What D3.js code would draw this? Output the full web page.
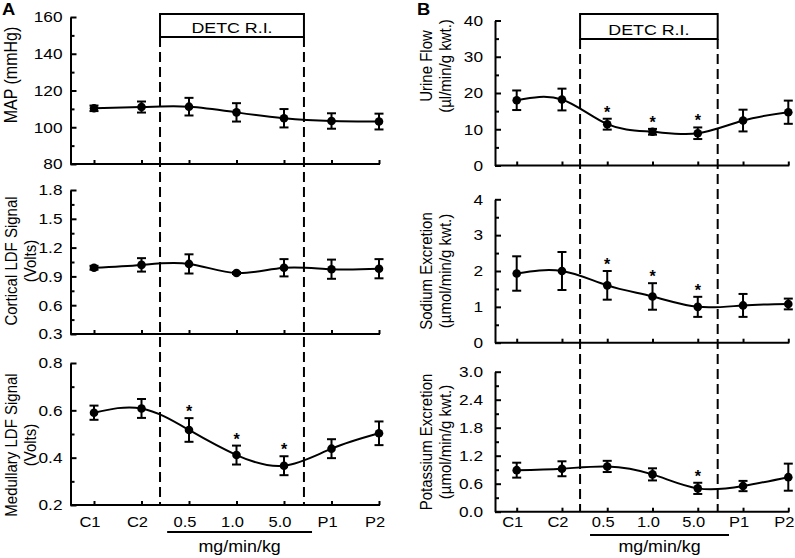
<!DOCTYPE html>
<html><head><meta charset="utf-8">
<script src="https://cdn.jsdelivr.net/npm/d3@7"></script>
<style>
body{margin:0;background:#fff}
svg{display:block}
text{font-family:"Liberation Sans",Arial,Helvetica,sans-serif;fill:#000}
</style>
</head><body>
<svg id="c" width="795" height="558"></svg>
<script>
// ---------- data ----------
const categories = ["C1", "C2", "0.5", "1.0", "5.0", "P1", "P2"];

const mapMean       = [110.3, 111.0, 111.2, 108.1, 104.9, 103.4, 103.1];
const mapErr        = [1.5, 3.0, 4.8, 5.0, 5.0, 4.2, 4.3];
const corticalMean  = [0.99, 1.02, 1.03, 0.935, 0.99, 0.975, 0.98];
const corticalErr   = [0.02, 0.07, 0.10, 0.01, 0.09, 0.10, 0.10];
const medullaryMean = [0.59, 0.608, 0.517, 0.411, 0.366, 0.438, 0.503];
const medullaryErr  = [0.03, 0.04, 0.05, 0.04, 0.04, 0.04, 0.05];

const urineMean     = [18.0, 18.2, 11.4, 9.3, 8.9, 12.4, 14.7];
const urineErr      = [2.7, 3.0, 1.5, 0.8, 1.6, 3.0, 3.2];
const sodiumMean    = [1.93, 2.0, 1.6, 1.29, 1.0, 1.04, 1.08];
const sodiumErr     = [0.48, 0.53, 0.40, 0.37, 0.28, 0.32, 0.15];
const potassiumMean = [0.89, 0.92, 0.97, 0.80, 0.50, 0.55, 0.74];
const potassiumErr  = [0.16, 0.16, 0.12, 0.13, 0.12, 0.11, 0.29];

const noSig        = [0, 0, 0, 0, 0, 0, 0];
const medullarySig = [0, 0, 1, 1, 1, 0, 0];
const urineSig     = [0, 0, 1, 1, 1, 0, 0];
const sodiumSig    = [0, 0, 1, 1, 1, 0, 0];
const potassiumSig = [0, 0, 0, 0, 1, 0, 0];

const mapTicks = [80, 100, 120, 140, 160];
const mapMinor = [90, 110, 130, 150];
const corticalTicks = [0.3, 0.6, 0.9, 1.2, 1.5, 1.8];
const corticalMinor = [0.45, 0.75, 1.05, 1.35, 1.65];
const medullaryTicks = [0.2, 0.4, 0.6, 0.8];
const medullaryMinor = [0.3, 0.5, 0.7];
const urineTicks = [0, 10, 20, 30, 40];
const urineMinor = [5, 15, 25, 35];
const sodiumTicks = [0, 1, 2, 3, 4];
const sodiumMinor = [0.5, 1.5, 2.5, 3.5];
const potassiumTicks = [0.0, 0.6, 1.2, 1.8, 2.4, 3.0];
const potassiumMinor = [0.3, 0.9, 1.5, 2.1, 2.7];

const boxLabel = "DETC R.I.";
const doseUnit = "mg/min/kg";

// ---------- layout ----------
const SX = 1.15;
const svg = d3.select("#c");

function htext(x, y, str, fs, anchor, weight, sx) {
  return svg.append("text")
    .attr("transform", `translate(${x},${y}) scale(${sx || SX},1)`)
    .attr("text-anchor", anchor || "middle")
    .style("font-size", fs + "px")
    .style("font-weight", weight || "normal")
    .text(str);
}
function vtext(x, y, str, fs) {
  return svg.append("text")
    .attr("transform", `translate(${x},${y}) rotate(-90) scale(1,${SX})`)
    .attr("text-anchor", "middle")
    .style("font-size", fs + "px")
    .text(str);
}

const cols = [
  { letter: "A", letterX: 2, ax: 70.5, xr: [94, 379], pad: 8, titleX: [17, 36],
    dash: [1.39, 4.42], boxTop: 14, boxBot: 37, ul: [1.54, 4.59], ulY: 532,
    panels: [
      { yt: 17, yb: 164, dom: [80, 160], ticks: mapTicks, minor: mapMinor, fmt: d3.format("d"),
        mean: mapMean, err: mapErr, sig: noSig, title: ["MAP (mmHg)"], titleY: 75, tfs: 16 },
      { yt: 190, yb: 334, dom: [0.3, 1.8], ticks: corticalTicks, minor: corticalMinor, fmt: d3.format(".1f"),
        mean: corticalMean, err: corticalErr, sig: noSig, title: ["Cortical LDF Signal", "(Volts)"], titleY: 261, tfs: 15 },
      { yt: 363, yb: 505, dom: [0.2, 0.8], ticks: medullaryTicks, minor: medullaryMinor, fmt: d3.format(".1f"),
        mean: medullaryMean, err: medullaryErr, sig: medullarySig, title: ["Medullary LDF Signal", "(Volts)"], titleY: 445, tfs: 15 }
    ] },
  { letter: "B", letterX: 417, ax: 495, xr: [516.7, 788.3], pad: 12, titleX: [432, 451],
    dash: [1.4, 4.44], boxTop: 14, boxBot: 39, ul: [1.62, 4.69], ulY: 535,
    panels: [
      { yt: 20.5, yb: 165.5, dom: [0, 40], ticks: urineTicks, minor: urineMinor, fmt: d3.format("d"),
        mean: urineMean, err: urineErr, sig: urineSig, title: ["Urine Flow", "(µl/min/g kwt.)"], titleY: 66, tfs: 15 },
      { yt: 199.3, yb: 342.7, dom: [0, 4], ticks: sodiumTicks, minor: sodiumMinor, fmt: d3.format("d"),
        mean: sodiumMean, err: sodiumErr, sig: sodiumSig, title: ["Sodium Excretion", "(µmol/min/g kwt.)"], titleY: 271, tfs: 15 },
      { yt: 371.7, yb: 511.7, dom: [0, 3], ticks: potassiumTicks, minor: potassiumMinor, fmt: d3.format(".1f"),
        mean: potassiumMean, err: potassiumErr, sig: potassiumSig, title: ["Potassium Excretion", "(µmol/min/g kwt.)"], titleY: 442, tfs: 15 }
    ] }
];

cols.forEach(col => {
  const x = d3.scalePoint().domain(categories).range(col.xr);
  const xi = d3.scaleLinear().domain([0, categories.length - 1]).range(col.xr);

  // panel letter
  htext(col.letterX, 15, col.letter, 16, "start", "bold", 1.15);

  col.panels.forEach((p, pi) => {
    const y = d3.scaleLinear().domain(p.dom).range([p.yb, p.yt]);
    const g = svg.append("g");

    // minor ticks
    g.append("g").attr("transform", `translate(${col.ax},0)`)
      .call(d3.axisLeft(y).tickValues(p.minor).tickFormat("").tickSize(-4).tickSizeOuter(0))
      .call(s => s.select(".domain").remove())
      .call(s => s.selectAll("line").attr("stroke-width", 2));

    // major ticks + labels
    const ya = g.append("g").attr("transform", `translate(${col.ax},0)`)
      .call(d3.axisLeft(y).tickValues(p.ticks).tickFormat(p.fmt).tickSize(-6).tickSizeOuter(0).tickPadding(col.pad));
    ya.select(".domain").attr("stroke-width", 2);
    ya.selectAll("line").attr("stroke-width", 2);
    ya.selectAll("text")
      .attr("font-family", null).attr("font-size", null)
      .style("font-size", "15px")
      .attr("x", -col.pad / SX)
      .attr("transform", `scale(${SX},1)`);
    ya.attr("font-family", null).attr("font-size", null);

    // x axis
    g.append("line").attr("x1", col.ax).attr("x2", col.xr[1] + 1)
      .attr("y1", y.range()[0]).attr("y2", y.range()[0])
      .attr("stroke", "#000").attr("stroke-width", 2);
    g.append("g").attr("transform", `translate(0,${y.range()[0]})`)
      .call(d3.axisBottom(x).tickFormat("").tickSize(-4).tickSizeOuter(0))
      .call(s => s.select(".domain").remove())
      .call(s => s.selectAll("line").attr("stroke-width", 2));

    // curve
    const line = d3.line().x((d, i) => x(categories[i])).y(d => y(d)).curve(d3.curveNatural);
    g.append("path").attr("d", line(p.mean)).attr("fill", "none")
      .attr("stroke", "#000").attr("stroke-width", 2);

    // error bars
    const eb = g.selectAll(".eb").data(p.mean).join("g");
    eb.append("line")
      .attr("x1", (d, i) => x(categories[i])).attr("x2", (d, i) => x(categories[i]))
      .attr("y1", (d, i) => y(d - p.err[i])).attr("y2", (d, i) => y(d + p.err[i]))
      .attr("stroke", "#000").attr("stroke-width", 2);
    [-1, 1].forEach(sgn => {
      eb.append("line")
        .attr("x1", (d, i) => x(categories[i]) - 4.5).attr("x2", (d, i) => x(categories[i]) + 4.5)
        .attr("y1", (d, i) => y(d + sgn * p.err[i])).attr("y2", (d, i) => y(d + sgn * p.err[i]))
        .attr("stroke", "#000").attr("stroke-width", 2);
    });
    eb.append("circle")
      .attr("cx", (d, i) => x(categories[i])).attr("cy", d => y(d)).attr("r", 4.3)
      .attr("fill", "#000");

    // significance
    p.mean.forEach((d, i) => {
      if (p.sig[i]) {
        svg.append("text").attr("x", x(categories[i])).attr("y", y(d + p.err[i]) - 1)
          .attr("text-anchor", "middle").style("font-size", "16px").style("font-weight", "bold")
          .text("*");
      }
    });

    // axis title
    p.title.forEach((t, k) => vtext(col.titleX[k], p.titleY, t, p.tfs));

    // category labels under the bottom panel
    if (pi === col.panels.length - 1) {
      categories.forEach(c => htext(x(c) - 4, 527, c, 15, "middle", "normal", 1.1));
    }
  });

  // dashed infusion period + box
  const bottomY = col.panels[col.panels.length - 1].yb;
  const xd1 = xi(col.dash[0]), xd2 = xi(col.dash[1]);
  [xd1, xd2].forEach(xx => {
    svg.append("line").attr("x1", xx).attr("x2", xx).attr("y1", col.boxBot).attr("y2", bottomY)
      .attr("stroke", "#000").attr("stroke-width", 2).attr("stroke-dasharray", "10,5");
  });
  svg.append("rect").attr("x", xd1).attr("y", col.boxTop).attr("width", xd2 - xd1)
    .attr("height", col.boxBot - col.boxTop).attr("fill", "#fff")
    .attr("stroke", "#000").attr("stroke-width", 2);
  htext((xd1 + xd2) / 2, col.boxBot - 4, boxLabel, 15.5, "middle");

  // dose underline and unit
  svg.append("line").attr("x1", xi(col.ul[0])).attr("x2", xi(col.ul[1]))
    .attr("y1", col.ulY).attr("y2", col.ulY).attr("stroke", "#000").attr("stroke-width", 2);
  htext((xi(col.ul[0]) + xi(col.ul[1])) / 2, 552, doseUnit, 17, "middle", "normal", 1.05);
});
</script>
</body></html>
